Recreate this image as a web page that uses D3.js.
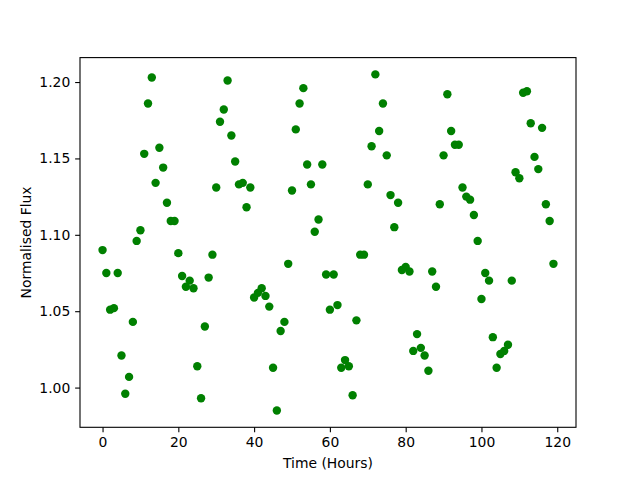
<!DOCTYPE html>
<html>
<head>
<meta charset="utf-8">
<script src="https://cdn.jsdelivr.net/npm/d3@7"></script>
<style>
  body { margin: 0; background: #fff; }
  svg { display: block; }
  text { font-family: "DejaVu Sans", sans-serif; }
</style>
</head>
<body>
<div id="chart"></div>
<script>
// Hourly flux readings, one per hour from 0 to 119
const hours = d3.range(0, 120);
const flux = [
  1.090, 1.075, 1.051, 1.052, 1.075, 1.021, 0.996, 1.007, 1.043, 1.096,
  1.103, 1.153, 1.186, 1.203, 1.134, 1.157, 1.144, 1.121, 1.109, 1.109,
  1.088, 1.073, 1.066, 1.070, 1.065, 1.014, 0.993, 1.040, 1.072, 1.087,
  1.131, 1.174, 1.182, 1.201, 1.165, 1.148, 1.133, 1.134, 1.118, 1.131,
  1.059, 1.062, 1.065, 1.060, 1.053, 1.013, 0.985, 1.037, 1.043, 1.081,
  1.129, 1.169, 1.186, 1.196, 1.146, 1.133, 1.102, 1.110, 1.146, 1.074,
  1.051, 1.074, 1.054, 1.013, 1.018, 1.014, 0.995, 1.044, 1.087, 1.087,
  1.133, 1.158, 1.205, 1.168, 1.186, 1.152, 1.126, 1.105, 1.121, 1.077,
  1.079, 1.076, 1.024, 1.035, 1.026, 1.021, 1.011, 1.076, 1.066, 1.120,
  1.152, 1.192, 1.168, 1.159, 1.159, 1.131, 1.125, 1.123, 1.113, 1.096,
  1.058, 1.075, 1.070, 1.033, 1.013, 1.022, 1.024, 1.028, 1.070, 1.141,
  1.137, 1.193, 1.194, 1.173, 1.151, 1.143, 1.170, 1.120, 1.109, 1.081
];
const xTicks = [0, 20, 40, 60, 80, 100, 120];
const yTicks = [1.00, 1.05, 1.10, 1.15, 1.20];

const width = 640;
const height = 480;
const margin = {top: 57.6, right: 64, bottom: 52.7, left: 80};
const tick = 4.86; // 3.5pt at 100 dpi

const svg = d3.select('#chart')
  .append('svg')
  .attr('width', width)
  .attr('height', height);

// matplotlib style 5% padding around the data
function padded(values) {
  const [lo, hi] = d3.extent(values);
  const pad = (hi - lo) * 0.05;
  return [lo - pad, hi + pad];
}

const x = d3.scaleLinear()
  .domain(padded(hours))
  .range([margin.left, width - margin.right]);

const y = d3.scaleLinear()
  .domain(padded(flux))
  .range([height - margin.bottom, margin.top]);

// Points
svg.append('g')
  .selectAll('circle')
  .data(hours)
  .enter()
  .append('circle')
  .attr('cx', (d) => x(d))
  .attr('cy', (d, i) => y(flux[i]))
  .attr('r', 4.2)
  .attr('fill', '#008000');

// Axes
const xAxis = svg.append('g')
  .attr('transform', 'translate(0,' + (height - margin.bottom) + ')')
  .call(d3.axisBottom(x).tickValues(xTicks).tickSize(tick).tickPadding(4.86).tickSizeOuter(0));

const yAxis = svg.append('g')
  .attr('transform', 'translate(' + margin.left + ',0)')
  .call(d3.axisLeft(y).tickValues(yTicks).tickFormat(d3.format('.2f')).tickSize(tick).tickPadding(4.86).tickSizeOuter(0));

[xAxis, yAxis].forEach((g) => {
  g.select('.domain').remove();
  g.selectAll('line').attr('stroke', '#000').attr('stroke-width', 1.1);
  g.selectAll('text').attr('fill', '#000').style('font-size', '13.9px');
});

// Frame around the plot area
svg.append('rect')
  .attr('x', margin.left)
  .attr('y', margin.top)
  .attr('width', width - margin.left - margin.right)
  .attr('height', height - margin.top - margin.bottom)
  .attr('fill', 'none')
  .attr('stroke', '#000')
  .attr('stroke-width', 1.1);

// Labels
svg.append('text')
  .attr('x', (margin.left + width - margin.right) / 2)
  .attr('y', 468)
  .attr('text-anchor', 'middle')
  .style('font-size', '13.9px')
  .text('Time (Hours)');

svg.append('text')
  .attr('transform', 'translate(31,' + ((margin.top + height - margin.bottom) / 2) + ') rotate(-90)')
  .attr('text-anchor', 'middle')
  .style('font-size', '13.9px')
  .text('Normalised Flux');
</script>
</body>
</html>
